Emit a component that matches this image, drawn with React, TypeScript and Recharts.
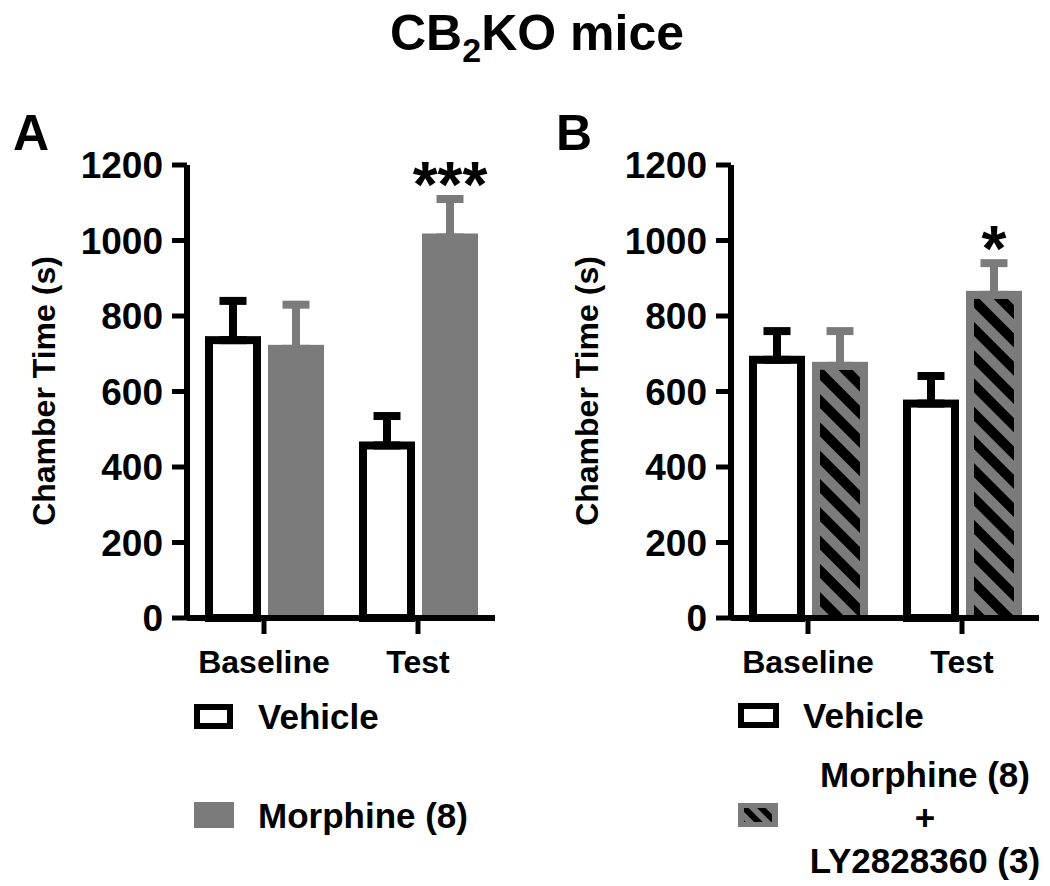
import React from "react";
import { BarChart, Bar, XAxis, YAxis, ErrorBar, LabelList } from "recharts";

const FONT = "'Liberation Sans', Arial, Helvetica, sans-serif";
const GRAY = "#7b7b7b";

const groups = ["Baseline", "Test"];
const yTicks = [0, 200, 400, 600, 800, 1000, 1200];

// panel A: vehicle vs morphine (8)
const vehicleA = [736, 457];
const vehicleSemA = [104, 78];
const morphineA = [713, 1008];
const morphineSemA = [117, 102];
const sigA = ["", "***"];

// panel B: vehicle vs morphine (8) + LY2828360 (3)
const vehicleB = [684, 568];
const vehicleSemB = [76, 73];
const comboB = [668, 856];
const comboSemB = [92, 84];
const sigB = ["", "*"];

type Row = {
  group: string;
  vehicle: number;
  vehicleErr: number[];
  drug: number;
  drugErr: number[];
  sig: string;
};

function buildRows(veh: number[], vehSem: number[], drug: number[], drugSem: number[], sig: string[]): Row[] {
  return groups.map((group, i) => ({
    group,
    vehicle: veh[i],
    vehicleErr: [0, vehSem[i]],
    drug: drug[i],
    drugErr: [0, drugSem[i]],
    sig: sig[i],
  }));
}

const rowsA = buildRows(vehicleA, vehicleSemA, morphineA, morphineSemA, sigA);
const rowsB = buildRows(vehicleB, vehicleSemB, comboB, comboSemB, sigB);

// outlined bar; stroke straddles the value line so the error bar's lower cap hides in it
const VehicleBar = (p: any) => (
  <rect
    x={p.x + 4}
    y={p.y}
    width={p.width - 8}
    height={Math.max(p.height, 0)}
    fill="#fff"
    stroke="#000"
    strokeWidth={8}
  />
);

const GrayBar = (p: any) => (
  <rect x={p.x} y={p.y - 4} width={p.width} height={p.height + 4} fill={GRAY} />
);

const HatchBar = (p: any) => (
  <g>
    <rect x={p.x} y={p.y - 4} width={p.width} height={p.height + 4} fill={GRAY} />
    <rect
      x={p.x + 8}
      y={p.y + 4}
      width={p.width - 16}
      height={Math.max(p.height - 4, 0)}
      fill="url(#hatchB)"
    />
  </g>
);

const starLabel = (rows: Row[]) => (props: any) => {
  const value = props.value;
  if (!value) return null;
  const row = rows.find((r) => r.sig === value);
  if (!row) return null;
  const vb = props.viewBox ?? props;
  const { x, y, width, height } = vb;
  const capY = y - row.drugErr[1] * (height / row.drug);
  return (
    <text
      x={x + width / 2}
      y={capY + 8}
      textAnchor="middle"
      fontSize={64}
      fontWeight="bold"
      fontFamily={FONT}
      fill="#000"
    >
      {value}
    </text>
  );
};

const tickFont = { fontFamily: FONT, fontWeight: "bold", fill: "#000" };

function Panel({ rows, left, plotLeft, drugShape, defs }: any) {
  const W = 525;
  const H = 700;
  const yAxisWidth = 100;
  const plotW = 308;
  return (
    <div style={{ position: "absolute", left, top: 0 }}>
      <BarChart
        width={W}
        height={H}
        data={rows}
        margin={{ top: 165, left: plotLeft - yAxisWidth, right: W - plotLeft - plotW, bottom: 22 }}
        barGap={7}
        barSize={56}
      >
        {defs}
        <XAxis
          dataKey="group"
          height={60}
          interval={0}
          axisLine={{ stroke: "#000", strokeWidth: 6 }}
          tickLine={{ stroke: "#000", strokeWidth: 5 }}
          tickSize={16}
          tickMargin={16}
          tick={{ ...tickFont, fontSize: 32 }}
        />
        <YAxis
          type="number"
          width={yAxisWidth}
          domain={[0, 1200]}
          ticks={yTicks}
          interval={0}
          axisLine={{ stroke: "#000", strokeWidth: 6 }}
          tickLine={{ stroke: "#000", strokeWidth: 5 }}
          tickSize={15}
          tickMargin={9}
          tick={{ ...tickFont, fontSize: 37 }}
        />
        <Bar dataKey="vehicle" shape={VehicleBar} isAnimationActive={false}>
          <ErrorBar dataKey="vehicleErr" direction="y" width={13.5} strokeWidth={8} stroke="#000" isAnimationActive={false} />
        </Bar>
        <Bar dataKey="drug" shape={drugShape} isAnimationActive={false}>
          <ErrorBar dataKey="drugErr" direction="y" width={13.5} strokeWidth={8} stroke={GRAY} isAnimationActive={false} />
          <LabelList dataKey="sig" content={starLabel(rows)} />
        </Bar>
      </BarChart>
    </div>
  );
}

export default function App() {
  const legendText = { fontFamily: FONT, fontWeight: "bold", fontSize: 35, fill: "#000" } as const;
  return (
    <div style={{ position: "absolute", left: 0, top: 0, width: 1050, height: 886, background: "#fff" }}>
      <Panel rows={rowsA} left={0} plotLeft={187} drugShape={GrayBar} />
      <Panel
        rows={rowsB}
        left={525}
        plotLeft={206}
        drugShape={HatchBar}
        defs={
          <defs>
            <pattern id="hatchB" patternUnits="userSpaceOnUse" width={20} height={20} patternTransform="rotate(-45)">
              <rect x={0} y={0} width={20} height={20} fill={GRAY} />
              <rect x={0} y={0} width={10} height={20} fill="#000" />
            </pattern>
          </defs>
        }
      />
      <svg
        width={1050}
        height={886}
        style={{ position: "absolute", left: 0, top: 0, pointerEvents: "none" }}
      >
        <defs>
          <pattern id="hatchLegend" patternUnits="userSpaceOnUse" width={12} height={12} patternTransform="rotate(-45)">
            <rect x={0} y={0} width={12} height={12} fill={GRAY} />
            <rect x={0} y={0} width={6} height={12} fill="#000" />
          </pattern>
        </defs>
        <text x={537} y={50} textAnchor="middle" fontFamily={FONT} fontWeight="bold" fontSize={50}>
          CB<tspan fontSize={34} dy={12}>2</tspan>
          <tspan dy={-12}>KO mice</tspan>
        </text>
        <text x={13} y={150} fontFamily={FONT} fontWeight="bold" fontSize={50}>A</text>
        <text x={556} y={150} fontFamily={FONT} fontWeight="bold" fontSize={50}>B</text>

        <text
          transform="translate(44,391) rotate(-90)"
          textAnchor="middle"
          dominantBaseline="central"
          fontFamily={FONT}
          fontWeight="bold"
          fontSize={32}
        >
          Chamber Time (s)
        </text>
        <text
          transform="translate(587,391) rotate(-90)"
          textAnchor="middle"
          dominantBaseline="central"
          fontFamily={FONT}
          fontWeight="bold"
          fontSize={32}
        >
          Chamber Time (s)
        </text>

        {/* legend A */}
        <rect x={197} y={707} width={33} height={19} fill="#fff" stroke="#000" strokeWidth={6} />
        <text x={258} y={729} {...legendText}>Vehicle</text>
        <rect x={194} y={802} width={40} height={26} fill={GRAY} />
        <text x={258} y={828} {...legendText}>Morphine (8)</text>

        {/* legend B */}
        <rect x={741} y={706} width={35} height={19} fill="#fff" stroke="#000" strokeWidth={6} />
        <text x={803} y={728} {...legendText}>Vehicle</text>
        <rect x={738} y={803} width={40} height={24} fill={GRAY} />
        <rect x={744} y={808} width={28} height={14} fill="url(#hatchLegend)" />
        <text x={925} y={787} textAnchor="middle" {...legendText}>Morphine (8)</text>
        <text x={925} y={830} textAnchor="middle" {...legendText}>+</text>
        <text x={925} y={873} textAnchor="middle" {...legendText}>LY2828360 (3)</text>
      </svg>
    </div>
  );
}
